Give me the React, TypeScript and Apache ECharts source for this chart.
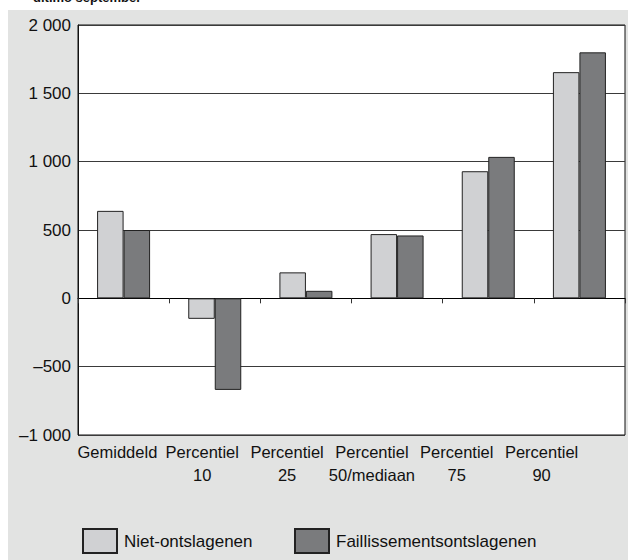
import React, { useEffect, useRef } from "react";
import * as echarts from "echarts";

const categories = [
  "Gemiddeld",
  "Percentiel\n10",
  "Percentiel\n25",
  "Percentiel\n50/mediaan",
  "Percentiel\n75",
  "Percentiel\n90",
];
const nietOntslagenen = [640, -150, 190, 470, 930, 1655];
const faillissementsontslagenen = [500, -670, 55, 460, 1035, 1800];
const seriesNames = ["Niet-ontslagenen", "Faillissementsontslagenen"];
const titleText = "ultimo september";

const FONT = "'Liberation Sans', Arial, Helvetica, sans-serif";

function fmt(v: number): string {
  const s = Math.abs(v)
    .toString()
    .replace(/\B(?=(\d{3})+(?!\d))/g, " ");
  return v < 0 ? "–" + s : s;
}

export default function App() {
  const ref = useRef<HTMLDivElement>(null);
  useEffect(() => {
    document.body.style.margin = "0";
    if (!ref.current) return;
    const chart = echarts.init(ref.current, undefined, { renderer: "svg" });
    const barBorder = { borderColor: "#222", borderWidth: 1 };
    const legendText = {
      color: "#111",
      fontSize: 17,
      fontFamily: FONT,
      lineHeight: 14,
      padding: [10, 0, 0, 2],
    };
    chart.setOption({
      animation: false,
      textStyle: { fontFamily: FONT },
      grid: [
        {
          left: 78,
          top: 25,
          width: 547,
          height: 410,
          show: true,
          backgroundColor: "#fff",
          borderColor: "#111",
          borderWidth: 1,
        },
        { left: 75, top: 25, width: 509, height: 410, show: false },
      ],
      xAxis: [
        {
          type: "category",
          gridIndex: 0,
          data: categories,
          axisLine: { onZero: true, lineStyle: { color: "#000", width: 1 } },
          axisTick: { show: true, length: 5, lineStyle: { color: "#333" } },
          axisLabel: { show: false },
          splitLine: { show: false },
        },
        {
          type: "category",
          gridIndex: 1,
          data: categories,
          position: "bottom",
          axisLine: { show: false },
          axisTick: { show: false },
          axisLabel: {
            show: true,
            interval: 0,
            margin: 5,
            color: "#111",
            fontSize: 16.5,
            lineHeight: 23,
            fontFamily: FONT,
          },
        },
      ],
      yAxis: [
        {
          type: "value",
          gridIndex: 0,
          min: -1000,
          max: 2000,
          interval: 500,
          axisLine: { show: true, lineStyle: { color: "#111" } },
          axisTick: { show: false },
          splitLine: { show: true, lineStyle: { color: "#3a3a3a", width: 1 } },
          axisLabel: {
            formatter: fmt,
            color: "#111",
            fontSize: 17,
            margin: 7,
            fontFamily: FONT,
          },
        },
        { type: "value", gridIndex: 1, show: false, min: -1000, max: 2000 },
      ],
      legend: [
        {
          data: [seriesNames[0]],
          left: 77,
          top: 523,
          icon: "rect",
          itemWidth: 34,
          itemHeight: 24,
          selectedMode: false,
          textStyle: legendText,
        },
        {
          data: [seriesNames[1]],
          left: 289,
          top: 523,
          icon: "rect",
          itemWidth: 34,
          itemHeight: 24,
          selectedMode: false,
          textStyle: legendText,
        },
      ],
      graphic: [
        {
          type: "text",
          left: 33,
          top: -9,
          style: {
            text: titleText,
            font: "bold 13px " + FONT,
            fill: "#111",
          },
        },
      ],
      series: [
        {
          name: seriesNames[0],
          type: "bar",
          xAxisIndex: 0,
          yAxisIndex: 0,
          data: nietOntslagenen,
          barWidth: 26.5,
          barGap: "0%",
          itemStyle: { color: "#d0d1d3", ...barBorder },
        },
        {
          name: seriesNames[1],
          type: "bar",
          xAxisIndex: 0,
          yAxisIndex: 0,
          data: faillissementsontslagenen,
          barWidth: 26.5,
          barGap: "0%",
          itemStyle: { color: "#7a7b7d", ...barBorder },
        },
      ],
    });
    return () => chart.dispose();
  }, []);
  return (
    <div style={{ position: "relative", width: 628, height: 560, background: "#fff" }}>
      <div
        style={{
          position: "absolute",
          left: 8,
          top: 10,
          width: 620,
          height: 550,
          background: "#e2e3e2",
        }}
      />
      <div ref={ref} style={{ position: "absolute", left: 0, top: 0, width: 628, height: 560 }} />
    </div>
  );
}
